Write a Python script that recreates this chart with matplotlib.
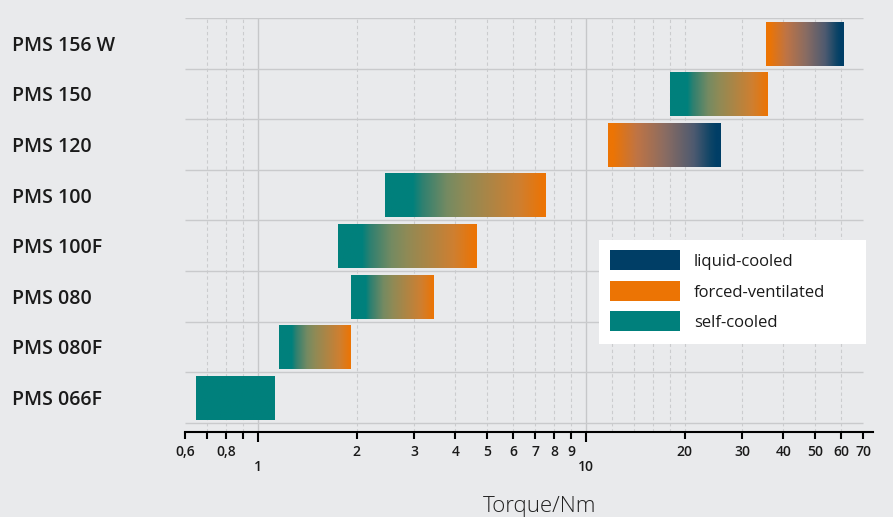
import numpy as np
import matplotlib
matplotlib.use('Agg')
import matplotlib.pyplot as plt
from matplotlib.patches import Rectangle
from matplotlib.colors import to_rgb

# ---------------- data ----------------
models = ['PMS 156 W', 'PMS 150', 'PMS 120', 'PMS 100', 'PMS 100F',
          'PMS 080', 'PMS 080F', 'PMS 066F']
t_min = [35.5, 18.0, 11.7, 2.45, 1.75, 1.92, 1.16, 0.65]
t_max = [61.5, 36.0, 26.0, 7.6, 4.65, 3.46, 1.93, 1.135]
cool_start = ['forced', 'self', 'forced', 'self', 'self', 'self', 'self', 'self']
cool_end = ['liquid', 'forced', 'liquid', 'forced', 'forced', 'forced', 'forced', 'self']

legend_keys = ['liquid', 'forced', 'self']
legend_labels = ['liquid-cooled', 'forced-ventilated', 'self-cooled']
colors = {'liquid': '#003E66', 'forced': '#EC7404', 'self': '#00807C'}

major_ticks = [1, 10]
major_labels = ['1', '10']
minor_ticks = [0.6, 0.7, 0.8, 0.9, 2, 3, 4, 5, 6, 7, 8, 9, 20, 30, 40, 50, 60, 70]
minor_labels = ['0,6', '', '0,8', '', '2', '3', '4', '5', '6', '7', '8', '9',
                '20', '30', '40', '50', '60', '70']
dashed_grid = [0.7, 0.8, 0.9, 2, 3, 4, 5, 6, 7, 8, 9, 12, 14, 16, 18,
               20, 30, 40, 50, 60]
solid_grid = [1, 10]
x_label = 'Torque/Nm'

# ---------------- style ----------------
BG = '#E9EAEC'
TXT = '#1A1A1A'
plt.rcParams['font.family'] = ['Open Sans', 'DejaVu Sans']

# gradient appearance (position along bar on screen, colour)
RAMPS = {
    ('self', 'forced'): [(0.0, colors['self']), (0.17, colors['self']),
                         (0.23, '#2F8070'), (0.38, '#748A62'),
                         (0.50, '#918A55'), (0.65, '#AD8545'),
                         (0.83, '#CF7F30'), (0.98, colors['forced']),
                         (1.0, colors['forced'])],
    ('forced', 'liquid'): [(0.0, colors['forced']), (0.04, colors['forced']),
                           (0.25, '#BF7445'), (0.50, '#8A6C62'),
                           (0.75, '#4E5A70'), (0.90, '#0D4466'),
                           (0.95, colors['liquid']), (1.0, colors['liquid'])],
}

W, H = 893, 517
fig = plt.figure(figsize=(W / 100, H / 100), dpi=100, facecolor=BG)


def fy(px):
    return 1 - px / H


ax = fig.add_axes([185 / W, fy(431.7), (873 - 185) / W, (431.7 - 18) / H])
ax.set_facecolor(BG)
ax.set_xscale('log')

# grid
for v in dashed_grid:
    ax.axvline(v, color='#CBCCCE', lw=0.8, dashes=(3, 2.5), zorder=0.5)
for v in solid_grid:
    ax.axvline(v, color='#C6C7C9', lw=1.0, zorder=0.5)
n = len(models)
ax.hlines(np.arange(n + 1) - 0.5, minor_ticks[0], minor_ticks[-1],
          color='#C9CACC', lw=1.0, zorder=0.5)


def ramp(k0, k1, x0, x1, ncol=3000):
    """Colour ramp that is linear on screen (log axis), sampled on the
    linear data grid imshow uses."""
    xs = np.linspace(x0, x1, ncol)
    t = (np.log(xs) - np.log(x0)) / (np.log(x1) - np.log(x0))
    if k0 == k1:
        c = np.array(to_rgb(colors[k0]))
        return np.tile(c, (1, ncol, 1))
    stops = RAMPS[(k0, k1)]
    pos = np.array([s[0] for s in stops])
    cols = np.array([to_rgb(s[1]) for s in stops])
    out = np.stack([np.interp(t, pos, cols[:, j]) for j in range(3)], axis=-1)
    return out[None, :, :]


h = 0.88
for i in range(n):
    img = ramp(cool_start[i], cool_end[i], t_min[i], t_max[i])
    ax.imshow(img, extent=[t_min[i], t_max[i], i + h / 2, i - h / 2],
              aspect='auto', interpolation='bilinear', zorder=2)

ax.set_xlim(0.6, 75)
ax.set_ylim(n - 0.5 + 8.9 / 50.6, -0.5)

# y labels
ax.set_yticks(range(n))
ax.set_yticklabels(models, fontsize=14, color=TXT, fontweight='semibold')
for lab in ax.get_yticklabels():
    lab.set_ha('left')
ax.tick_params(axis='y', length=0, pad=(185 - 12) * 0.72)

# x ticks
ax.set_xticks(major_ticks)
ax.set_xticklabels(major_labels, fontweight='semibold')
ax.set_xticks(minor_ticks, minor=True)
ax.set_xticklabels(minor_labels, minor=True, fontweight='semibold')
ax.tick_params(axis='x', which='major', length=7.2, width=1.5, pad=13.0,
               labelsize=10, labelcolor=TXT, color='black')
ax.tick_params(axis='x', which='minor', length=4.7, width=1.5, pad=5.2,
               labelsize=10, labelcolor=TXT, color='black')

for s in ['top', 'left', 'right']:
    ax.spines[s].set_visible(False)
ax.spines['bottom'].set_linewidth(1.5)
ax.spines['bottom'].set_color('black')

# legend (drawn in figure pixels)
fig.add_artist(Rectangle((599 / W, fy(344)), (866 - 599) / W, (344 - 240) / H,
                         transform=fig.transFigure, facecolor='white',
                         edgecolor='none', zorder=5))
tops = [250, 281, 311]
for key, lab, top in zip(legend_keys, legend_labels, tops):
    fig.add_artist(Rectangle((610 / W, fy(top + 20)), 70 / W, 20 / H,
                             transform=fig.transFigure, facecolor=colors[key],
                             edgecolor='none', zorder=6))
    fig.text(694 / W, fy(top + 10), lab, fontsize=12, color=TXT,
             fontweight='medium', va='center_baseline', ha='left', zorder=7)

fig.text(540 / W, fy(512), x_label, ha='center', va='baseline',
         fontsize=16, fontweight='light', color='#222222')

fig.savefig('out.png', dpi=100, facecolor=BG)
